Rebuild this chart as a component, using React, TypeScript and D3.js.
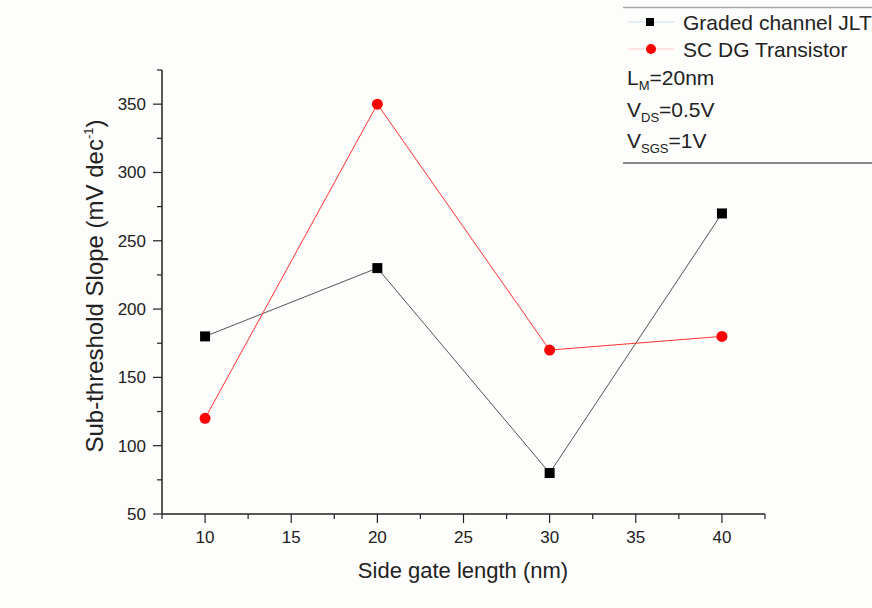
import React from 'react';
import * as d3 from 'd3';

const gateLength = [10, 20, 30, 40];
const gradedJLT = [180, 230, 80, 270];
const scDG = [120, 350, 170, 180];
const xTicks = [10, 15, 20, 25, 30, 35, 40];
const yTicks = [50, 100, 150, 200, 250, 300, 350];

const W = 872;
const H = 608;
const font = 'Arial, "Liberation Sans", sans-serif';

const xScale = d3.scaleLinear().domain([7.5, 42.5]).range([162, 765]);
const yScale = d3.scaleLinear().domain([50, 375]).range([514, 70]);

const line = d3
  .line<number>()
  .x((d, i) => xScale(gateLength[i]))
  .y((d) => yScale(d));

export default function App() {
  const xMinor = d3.range(7.5, 43, 5);
  const yMinor = d3.range(75, 376, 50);
  return (
    <svg width={W} height={H} style={{ position: 'absolute', left: 0, top: 0, fontFamily: font }}>
      <rect width={W} height={H} fill="#fdfdfc" />

      {/* axes */}
      <line x1={162} x2={765} y1={514} y2={514} stroke="#222" strokeWidth={1.5} />
      <line x1={162} x2={162} y1={70} y2={514} stroke="#222" strokeWidth={1.5} />

      {xTicks.map((t) => (
        <g key={'x' + t}>
          <line x1={xScale(t)} x2={xScale(t)} y1={514} y2={523} stroke="#222" strokeWidth={1.2} />
          <text x={xScale(t)} y={543} textAnchor="middle" fontSize={17} fill="#222">{t}</text>
        </g>
      ))}
      {xMinor.map((t) => (
        <line key={'xm' + t} x1={xScale(t)} x2={xScale(t)} y1={514} y2={519} stroke="#222" strokeWidth={1.2} />
      ))}
      {yTicks.map((t) => (
        <g key={'y' + t}>
          <line x1={153} x2={162} y1={yScale(t)} y2={yScale(t)} stroke="#222" strokeWidth={1.2} />
          <text x={146} y={yScale(t) + 6} textAnchor="end" fontSize={17} fill="#222">{t}</text>
        </g>
      ))}
      {yMinor.map((t) => (
        <line key={'ym' + t} x1={157} x2={162} y1={yScale(t)} y2={yScale(t)} stroke="#222" strokeWidth={1.2} />
      ))}

      <text x={463} y={578} textAnchor="middle" fontSize={22} fill="#222">Side gate length (nm)</text>
      <text transform="translate(103,286) rotate(-90)" textAnchor="middle" fontSize={24} fill="#222">
        Sub-threshold Slope (mV dec<tspan dy={-10} fontSize={13}>-1</tspan><tspan dy={10}>)</tspan>
      </text>

      {/* series */}
      <path d={line(gradedJLT) || ''} fill="none" stroke="#555" strokeWidth={1} />
      <path d={line(scDG) || ''} fill="none" stroke="#f33" strokeWidth={1} />
      {gradedJLT.map((v, i) => (
        <rect key={'s' + i} x={xScale(gateLength[i]) - 5} y={yScale(v) - 5} width={10} height={10} fill="#000" />
      ))}
      {scDG.map((v, i) => (
        <circle key={'c' + i} cx={xScale(gateLength[i])} cy={yScale(v)} r={5.5} fill="#f00" />
      ))}

      {/* legend */}
      <line x1={623} x2={W} y1={7.5} y2={7.5} stroke="#aaa" strokeWidth={1.5} />
      <line x1={623} x2={W} y1={163} y2={163} stroke="#888" strokeWidth={2} />
      <line x1={628} x2={674} y1={22} y2={22} stroke="#cde" strokeWidth={1} />
      <rect x={646} y={18} width={8} height={8} fill="#000" />
      <text x={683} y={30} fontSize={21} fill="#222">Graded channel JLT</text>
      <line x1={628} x2={674} y1={49} y2={49} stroke="#fcc" strokeWidth={1} />
      <circle cx={651} cy={49} r={5} fill="#f00" />
      <text x={683} y={57} fontSize={21} fill="#222">SC DG Transistor</text>
      <text x={627} y={85} fontSize={21} fill="#222">L<tspan dy={5} fontSize={13}>M</tspan><tspan dy={-5}>=20nm</tspan></text>
      <text x={627} y={117} fontSize={21} fill="#222">V<tspan dy={5} fontSize={13}>DS</tspan><tspan dy={-5}>=0.5V</tspan></text>
      <text x={627} y={148} fontSize={21} fill="#222">V<tspan dy={5} fontSize={13}>SGS</tspan><tspan dy={-5}>=1V</tspan></text>
    </svg>
  );
}
